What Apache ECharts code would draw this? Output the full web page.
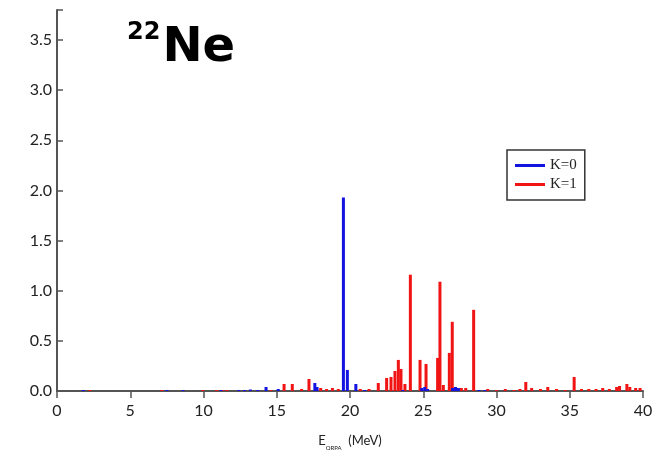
<!DOCTYPE html>
<html>
<head>
<meta charset="utf-8">
<script src="https://cdn.jsdelivr.net/npm/echarts@6/dist/echarts.min.js"></script>
<style>html,body{margin:0;padding:0;background:#fff}#c{width:667px;height:450px}</style>
</head>
<body>
<div id="c"></div>
<script>
// K=0 (blue) transitions: energy (MeV) and strength
var k0Energy = [1.8, 7.5, 8.6, 11.2, 12.4, 12.8, 13.2, 13.7, 14.27, 15.1, 17.6, 17.75, 19.55, 19.82, 20.4, 21.0, 23.6, 24.9, 25.1, 25.3, 27.0, 27.2, 27.4, 28.8, 29.2];
var k0Strength = [0.01, 0.01, 0.01, 0.01, 0.01, 0.01, 0.015, 0.01, 0.04, 0.02, 0.08, 0.04, 1.93, 0.21, 0.07, 0.01, 0.01, 0.03, 0.04, 0.02, 0.03, 0.04, 0.03, 0.01, 0.01];
// K=1 (red) transitions
var k1Energy = [2.25, 7.15, 9.95, 10.9, 11.3, 11.6, 14.6, 15.5, 16.06, 16.7, 17.2, 18.0, 18.4, 18.8, 19.2, 20.7, 21.3, 21.93, 22.5, 22.8, 23.07, 23.3, 23.48, 23.75, 24.12, 24.78, 25.19, 25.98, 26.14, 26.37, 26.78, 26.98, 27.6, 27.9, 28.44, 29.4, 30.0, 30.6, 31.2, 31.6, 32.0, 32.4, 33.0, 33.5, 34.1, 34.7, 35.3, 35.8, 36.3, 36.8, 37.25, 37.7, 38.2, 38.4, 38.9, 39.1, 39.5, 39.8];
var k1Strength = [0.01, 0.01, 0.01, 0.01, 0.01, 0.01, 0.01, 0.07, 0.07, 0.02, 0.12, 0.03, 0.02, 0.03, 0.02, 0.02, 0.02, 0.08, 0.13, 0.14, 0.2, 0.31, 0.22, 0.07, 1.16, 0.31, 0.27, 0.33, 1.09, 0.06, 0.38, 0.69, 0.03, 0.03, 0.81, 0.02, 0.01, 0.02, 0.01, 0.02, 0.09, 0.03, 0.02, 0.04, 0.02, 0.01, 0.14, 0.02, 0.02, 0.02, 0.03, 0.02, 0.04, 0.05, 0.07, 0.04, 0.03, 0.03];
var xTicks = [0, 5, 10, 15, 20, 25, 30, 35, 40];
var yTicks = [0.0, 0.5, 1.0, 1.5, 2.0, 2.5, 3.0, 3.5];

function pairs(xs, ys) { return xs.map(function (x, i) { return [x, ys[i]]; }); }

var chart = echarts.init(document.getElementById('c'));
var axisFont = 'Lato, "DejaVu Sans", sans-serif';
chart.setOption({
  animation: false,
  backgroundColor: '#fff',
  title: {
    text: '{a|22}{b|Ne}',
    left: 122, top: 16,
    textStyle: {
      rich: {
        a: { fontSize: 24, fontWeight: 'bold', color: '#000', fontFamily: '"DejaVu Sans", sans-serif', verticalAlign: 'top', lineHeight: 50, padding: [0, 2, 0, 0] },
        b: { fontSize: 48, fontWeight: 'bold', color: '#000', fontFamily: '"DejaVu Sans", sans-serif', lineHeight: 56 }
      }
    }
  },
  legend: {
    orient: 'vertical',
    left: 507, top: 150,
    padding: [8, 8, 8, 8],
    itemWidth: 30, itemHeight: 3, itemGap: 4,
    borderColor: '#333', borderWidth: 1.5,
    icon: 'rect',
    textStyle: { fontFamily: '"Liberation Serif", serif', fontSize: 15, color: '#222', lineHeight: 14 },
    data: ['K=0', 'K=1']
  },
  grid: { left: 57, right: 24, top: 10, bottom: 59, containLabel: false, outerBoundsMode: 'none' },
  xAxis: {
    type: 'value', min: 0, max: 40, interval: 5,
    axisLine: { show: true, onZero: false, lineStyle: { color: '#555', width: 2 } },
    axisTick: { show: true, inside: false, length: 7, lineStyle: { color: '#555', width: 1.5 } },
    axisLabel: { margin: 12, fontSize: 16, color: '#222', fontFamily: axisFont,
      formatter: function (v) { return xTicks.indexOf(v) >= 0 ? String(v) : ''; } },
    splitLine: { show: false },
    name: '{e|E}{s|QRPA}{m|  (MeV)}',
    nameLocation: 'middle', nameGap: 40,
    nameTextStyle: {
      rich: {
        e: { fontSize: 13, color: '#222', fontFamily: axisFont, lineHeight: 20, verticalAlign: 'middle' },
        s: { fontSize: 6, color: '#222', fontFamily: axisFont, lineHeight: 8, verticalAlign: 'bottom' },
        m: { fontSize: 13, color: '#222', fontFamily: axisFont, lineHeight: 20, verticalAlign: 'middle' }
      }
    }
  },
  yAxis: {
    type: 'value', min: 0, max: 3.8, interval: 0.5,
    axisLine: { show: true, lineStyle: { color: '#555', width: 2 } },
    axisTick: { show: true, inside: true, length: 6, lineStyle: { color: '#555', width: 1.5 } },
    axisLabel: { margin: 5, fontSize: 16, color: '#222', fontFamily: axisFont,
      formatter: function (v) { var i = yTicks.indexOf(Math.round(v * 10) / 10); return i >= 0 ? yTicks[i].toFixed(1) : ''; } },
    splitLine: { show: false }
  },
  series: [
    { name: 'K=1', type: 'bar', barWidth: 3, barGap: '-100%', itemStyle: { color: '#f01414' }, data: pairs(k1Energy, k1Strength) },
    { name: 'K=0', type: 'bar', barWidth: 3, barGap: '-100%', itemStyle: { color: '#1414e0' }, data: pairs(k0Energy, k0Strength) }
  ]
});
</script>
</body>
</html>
